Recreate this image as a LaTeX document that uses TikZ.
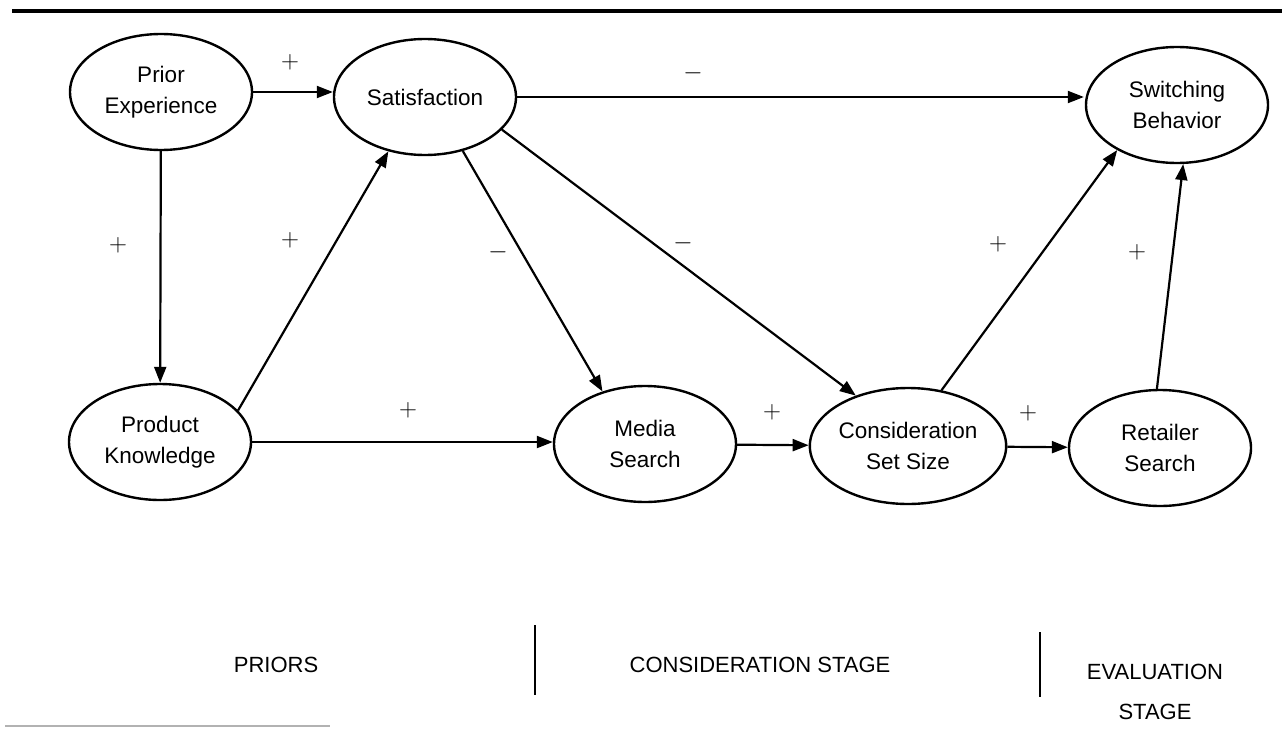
\documentclass[tikz,border=0pt]{standalone}
\usepackage{fontspec}
\setmainfont{Liberation Sans}
\usetikzlibrary{shapes.geometric,arrows.meta}
\begin{document}
\begin{tikzpicture}[x=1pt,y=-1pt,
  var/.style={ellipse,draw,line width=2.4pt,minimum width=182pt,minimum height=116pt,inner sep=0pt,align=center,font=\fontsize{22.5}{31}\selectfont},
  conn/.style={line width=2.2pt,-{Triangle[length=16pt,width=12pt]}},
  sign/.style={font=\fontsize{25}{25}\selectfont,inner sep=0pt},
  stage/.style={font=\fontsize{22}{40}\selectfont,align=center,inner sep=0pt},
  sep/.style={line width=2.4pt}]
\useasboundingbox (0,0) rectangle (1282,728);
% rules
\draw[line width=3.2pt] (12,11) -- (1282,11);
\draw[line width=2pt,gray!60] (5,726) -- (330,726);
% variables
\node[var] (pe) at (161,92) {Prior\\Experience};
\node[var] (sat) at (425,97) {Satisfaction};
\node[var] (sw) at (1177,105) {Switching\\Behavior};
\node[var] (pk) at (160,442) {Product\\Knowledge};
\node[var] (ms) at (645,444) {Media\\Search};
\node[var] (cs) at (908,446) {Consideration\\Set Size};
\node[var] (rs) at (1160,448) {Retailer\\Search};
% connectors
\draw[conn] (pe.east) -- (pe.east -| sat.west);
\draw[conn] (sat.east) -- ([xshift=-1pt]sat.east -| sw.west);
\draw[conn] (pe) -- (pk);
\draw[conn] (pk.22) -- (sat.236);
\draw[conn] (pk.east) -- (pk.east -| ms.west);
\draw[conn] (sat.-55) -- (ms.129);
\draw[conn] (sat.-23) -- (cs.136);
\draw[conn] (ms) -- (cs);
\draw[conn] (cs) -- (rs);
\draw[conn] (cs.59) -- (sw.217);
\draw[conn] (rs.93) -- (sw.-84);
% signs
\node[sign] (s1) at (290,62) {$+$};
\node[sign] (s2) at (693,73) {$-$};
\node[sign] (s3) at (118,245) {$+$};
\node[sign] (s4) at (290,240) {$+$};
\node[sign] (s5) at (498,252) {$-$};
\node[sign] (s6) at (683,243) {$-$};
\node[sign] (s7) at (998,244) {$+$};
\node[sign] (s8) at (1137,252) {$+$};
\node[sign] (s9) at (408,410) {$+$};
\node[sign] (s10) at (772,412) {$+$};
\node[sign] (s11) at (1028,413) {$+$};
% stages
\draw[sep] (535,625) -- (535,695);
\draw[sep] (1040,632) -- (1040,697);
\node[stage] (p1) at (276,665) {PRIORS};
\node[stage] (p2) at (760,665) {CONSIDERATION STAGE};
\node[stage] (p3) at (1155,692) {EVALUATION\\STAGE};
\end{tikzpicture}
\end{document}
